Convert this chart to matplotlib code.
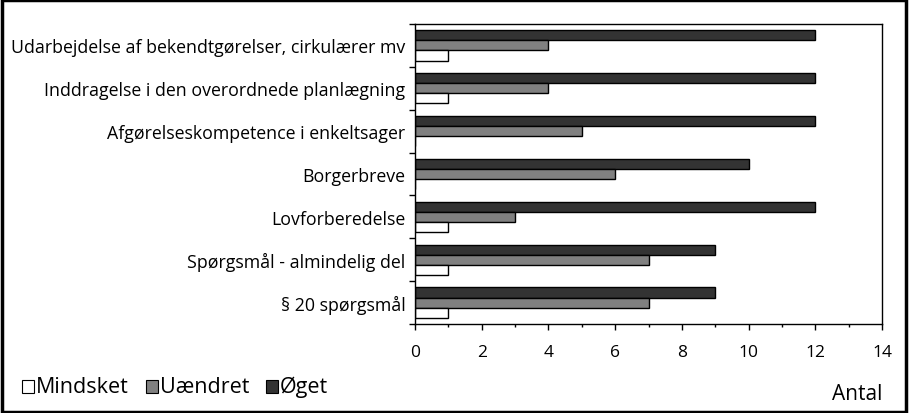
import numpy as np
import matplotlib.pyplot as plt
from matplotlib.patches import Rectangle

kategorier = [
    "Udarbejdelse af bekendtgørelser, cirkulærer mv",
    "Inddragelse i den overordnede planlægning",
    "Afgørelseskompetence i enkeltsager",
    "Borgerbreve",
    "Lovforberedelse",
    "Spørgsmål - almindelig del",
    "§ 20 spørgsmål",
]
mindsket = [1, 1, 0, 0, 1, 1, 1]
uaendret = [4, 4, 5, 6, 3, 7, 7]
oeget = [12, 12, 12, 10, 12, 9, 9]
serier = ["Mindsket", "Uændret", "Øget"]
farver = ["white", "#808080", "#333333"]

plt.rcParams['font.family'] = ['Open Sans', 'DejaVu Sans']

fig = plt.figure(figsize=(9.09, 4.14), dpi=100)
ax = fig.add_axes([415 / 909, 1 - 325 / 414, (882 - 415) / 909, 300 / 414])

n = len(kategorier)
y = np.arange(n)[::-1]  # første kategori øverst
h = 0.235
for vals, farve, off in zip([oeget, uaendret, mindsket], farver[::-1], [-h, 0, h]):
    ax.barh(y - off, vals, height=h, color=farve, edgecolor='black', linewidth=1)

ax.set_xlim(0, 14)
ax.set_ylim(-0.5, n - 0.5)
ax.set_xticks(range(0, 15, 2))
ax.set_xticks(range(1, 14, 2), minor=True)
ax.tick_params(axis='x', which='major', length=4.5, width=1, labelsize=12.5, pad=10)
ax.tick_params(axis='x', which='minor', length=2.5, width=1)
ax.set_yticks(np.arange(-0.5, n, 1))
ax.set_yticklabels([])
ax.set_yticks(y, minor=True)
ax.set_yticklabels(kategorier, minor=True)
ax.tick_params(axis='y', which='major', length=4.5, width=1)
ax.tick_params(axis='y', which='minor', length=0, labelsize=12.8, pad=7)
for s in ax.spines.values():
    s.set_linewidth(1)

# legende og aksetitel
fig.text(882 / 909, 1 - 400 / 414, "Antal", fontsize=15, va='baseline', ha='right')
legx = [22, 146, 266]
for x0, navn, farve in zip(legx, serier, farver):
    fig.patches.append(Rectangle((x0 / 909, 1 - 394 / 414), 12 / 909, 13 / 414,
                                 transform=fig.transFigure, facecolor=farve,
                                 edgecolor='black', linewidth=0.8))
    fig.text((x0 + 14) / 909, 1 - 393.5 / 414, navn, fontsize=15.5, va='baseline', ha='left')

# ramme
fig.patches.append(Rectangle((0.002, 0.003), 0.995, 0.994, transform=fig.transFigure,
                             fill=False, edgecolor='black', linewidth=2.5))

fig.savefig("out.png", dpi=100)
